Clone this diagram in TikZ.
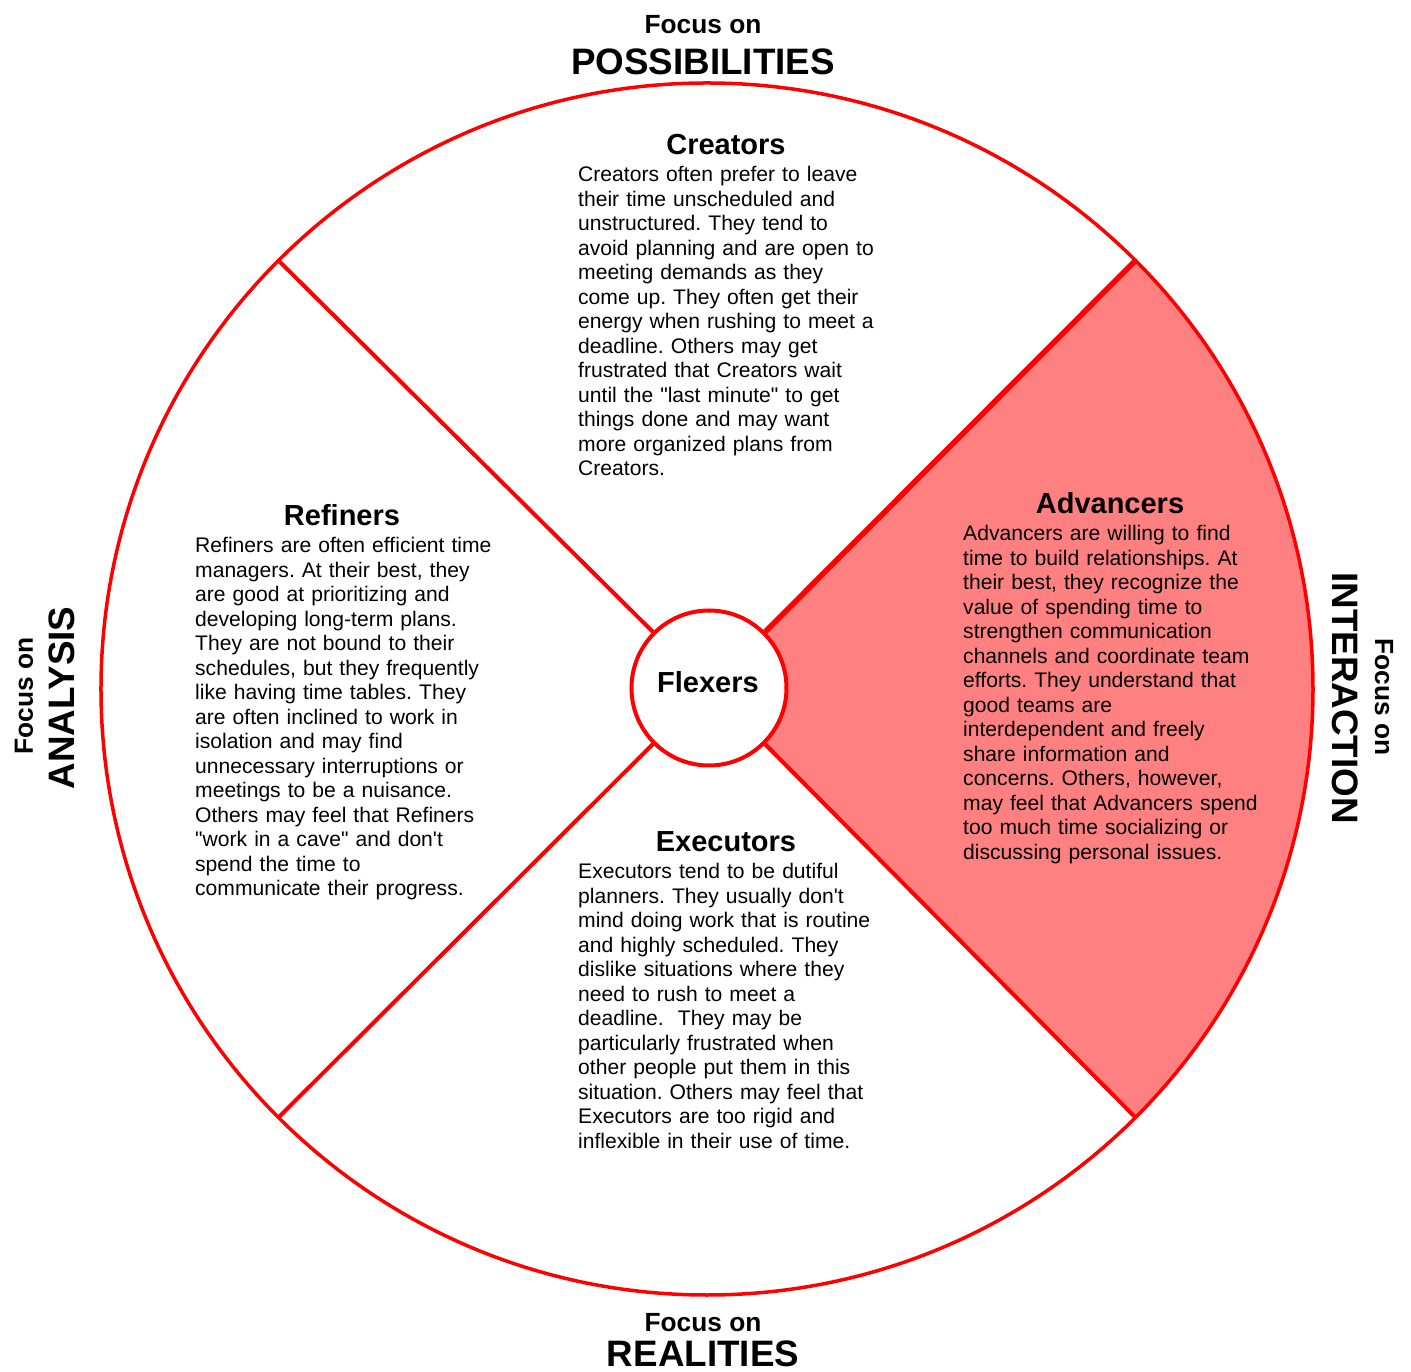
\documentclass[tikz,border=0pt]{standalone}
\usepackage{fontspec}
\setmainfont{Liberation Sans}
\frenchspacing
\definecolor{wheelred}{RGB}{255,0,0}
\definecolor{advfill}{RGB}{255,128,128}
\begin{document}
\begin{tikzpicture}[x=1pt,y=1pt,
    rim/.style={draw=wheelred,line width=3.5pt},
    spoke/.style={draw=wheelred,line width=4pt},
    head/.style={font=\fontsize{29}{32}\selectfont\bfseries,inner sep=0pt,anchor=base},
    blurb/.style={font=\fontsize{21.1}{24.5}\selectfont,inner sep=0pt,anchor=base west,text width=330pt,align=left},
    focus/.style={font=\fontsize{26.3}{30}\selectfont\bfseries,inner sep=0pt,anchor=base},
    pole/.style={font=\fontsize{36.8}{40}\selectfont\bfseries,inner sep=0pt,anchor=base}]
        \useasboundingbox (-707,-683) rectangle (704,689);
        %% advancers sector
        \fill[advfill] (0,0) -- (-45:606) arc[start angle=-45,end angle=45,radius=606] -- cycle;
        %% wheel
        \draw[rim] (0,0) circle (606);
        \coordinate (ne) at (45:606);
        \coordinate (nw) at (135:606);
        \coordinate (sw) at (225:606);
        \coordinate (se) at (315:606);
        \node[circle,draw=wheelred,line width=4pt,fill=white,minimum size=155pt,inner sep=0pt] (flex) at (2,1) {};
        \draw[spoke,line width=5.5pt] (flex.45) -- (ne);
        \draw[spoke] (flex.135) -- (nw);
        \draw[spoke] (flex.225) -- (sw);
        \draw[spoke] (flex.315) -- (se);
        \node[head] (flexT) at (1,-4) {Flexers};
        %% poles
        \node[focus] (topF) at (-4,655) {Focus on};
        \node[pole] (topP) at (-4,614) {POSSIBILITIES};
        \node[focus] (botF) at (-4,-642) {Focus on};
        \node[pole] (botP) at (-4,-677) {REALITIES};
        \node[focus,rotate=90] (leftF) at (-674,-7) {Focus on};
        \node[pole,rotate=90] (leftP) at (-632,-9) {ANALYSIS};
        \node[focus,rotate=-90] (rightF) at (668,-8) {Focus on};
        \node[pole,rotate=-90] (rightP) at (625,-9) {INTERACTION};
        %% creators
        \node[head] (creaT) at (19,534) {Creators};
        \node[blurb] (creaB) at (-129,507) {Creators often prefer to leave\\their time unscheduled and\\unstructured. They tend to\\avoid planning and are open to\\meeting demands as they\\come up. They often get their\\energy when rushing to meet a\\deadline. Others may get\\frustrated that Creators wait\\until the \textquotedbl last minute\textquotedbl{} to get\\things done and may want\\more organized plans from\\Creators.};
        %% refiners
        \node[head] (refiT) at (-365,163) {Refiners};
        \node[blurb] (refiB) at (-512,136) {Refiners are often efficient time\\managers. At their best, they\\are good at prioritizing and\\developing long-term plans.\\They are not bound to their\\schedules, but they frequently\\like having time tables. They\\are often inclined to work in\\isolation and may find\\unnecessary interruptions or\\meetings to be a nuisance.\\Others may feel that Refiners\\\textquotedbl work in a cave\textquotedbl{} and don\textquotesingle t\\spend the time to\\communicate their progress.};
        %% advancers
        \node[head] (advaT) at (403,175) {Advancers};
        \node[blurb] (advaB) at (256,148) {Advancers are willing to find\\time to build relationships. At\\their best, they recognize the\\value of spending time to\\strengthen communication\\channels and coordinate team\\efforts. They understand that\\good teams are\\interdependent and freely\\share information and\\concerns. Others, however,\\may feel that Advancers spend\\too much time socializing or\\discussing personal issues.};
        %% executors
        \node[head] (execT) at (19,-163) {Executors};
        \node[blurb] (execB) at (-129,-190) {Executors tend to be dutiful\\planners. They usually don\textquotesingle t\\mind doing work that is routine\\and highly scheduled. They\\dislike situations where they\\need to rush to meet a\\deadline.\ \ They may be\\particularly frustrated when\\other people put them in this\\situation. Others may feel that\\Executors are too rigid and\\inflexible in their use of time.};
    \end{tikzpicture}
\end{document}
